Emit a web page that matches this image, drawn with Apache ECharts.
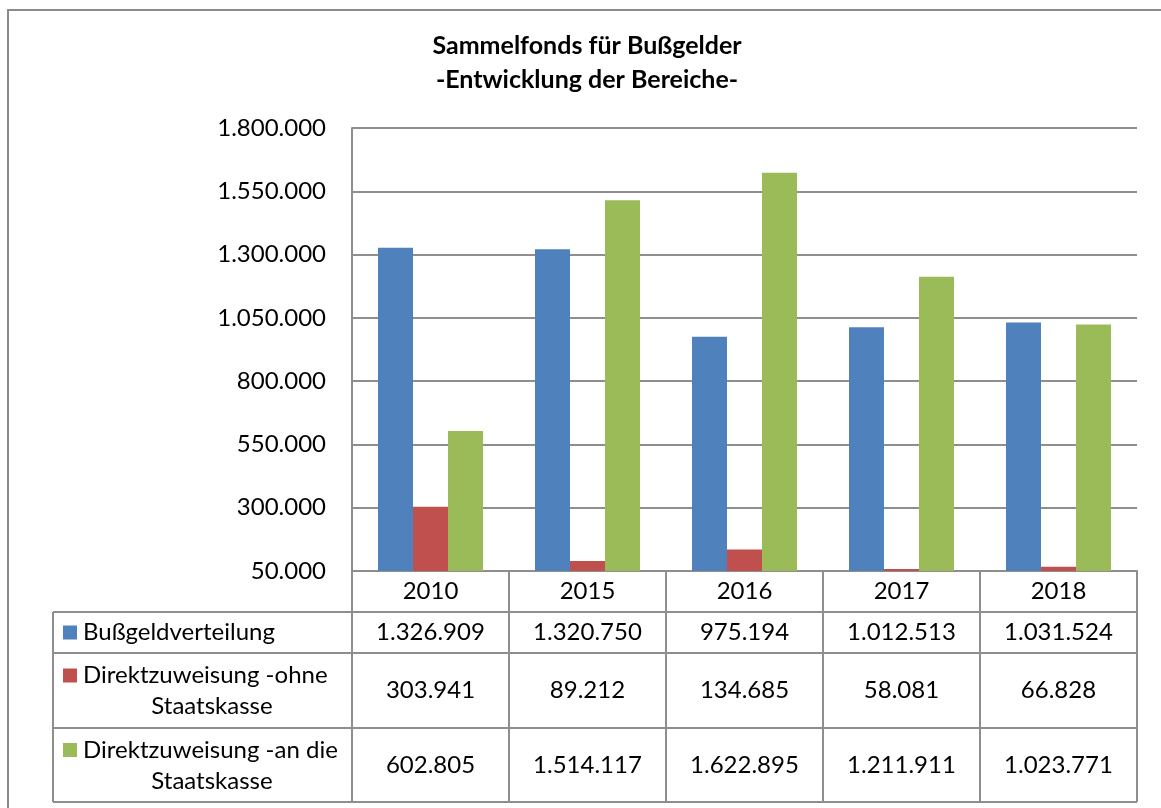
<!DOCTYPE html>
<html>
<head>
<meta charset="utf-8">
<script src="https://cdn.jsdelivr.net/npm/echarts@6/dist/echarts.min.js"></script>
<style>
html,body{margin:0;padding:0;background:#fff;}
#c{width:1161px;height:808px;}
</style>
</head>
<body>
<div id="c"></div>
<script>
const categories = ['2010', '2015', '2016', '2017', '2018'];
const seriesNames = ['Bußgeldverteilung', 'Direktzuweisung -ohne Staatskasse', 'Direktzuweisung -an die Staatskasse'];
const bussgeld = [1326909, 1320750, 975194, 1012513, 1031524];
const ohneStaatskasse = [303941, 89212, 134685, 58081, 66828];
const anStaatskasse = [602805, 1514117, 1622895, 1211911, 1023771];
const tableLabels = [['Bußgeldverteilung'], ['Direktzuweisung -ohne', 'Staatskasse'], ['Direktzuweisung -an die', 'Staatskasse']];
const colors = ['#4F81BD', '#C0504D', '#9BBB59'];
const yMin = 50000, yMax = 1800000, yStep = 250000;

const FONT = 'Lato';
const FS = 24;
const FS_LABEL = 24;
const GRID_COLOR = '#8e8e8e';
const allSeries = [bussgeld, ohneStaatskasse, anStaatskasse];

function fmt(v) {
  return String(v).replace(/\B(?=(\d{3})+(?!\d))/g, '.');
}

const chart = echarts.init(document.getElementById('c'), null, {renderer: 'canvas'});

const option = {
  animation: false,
  backgroundColor: '#fff',
  title: {
    text: 'Sammelfonds für Bußgelder\n-Entwicklung der Bereiche-',
    left: 587,
    top: 29,
    padding: 0,
    textAlign: 'center',
    textStyle: {fontFamily: FONT, fontWeight: 'bold', fontSize: 25, lineHeight: 34, color: '#000'}
  },
  grid: {left: 352, right: 24, top: 128, bottom: 237, containLabel: false},
  xAxis: {
    type: 'category',
    data: categories,
    boundaryGap: true,
    axisLine: {show: true, lineStyle: {color: GRID_COLOR, width: 2}},
    axisTick: {show: true, interval: 0, length: 231, lineStyle: {color: GRID_COLOR, width: 2}},
    axisLabel: {interval: 0, margin: 8, fontFamily: FONT, fontSize: FS, color: '#000'}
  },
  yAxis: {
    type: 'value',
    min: yMin,
    max: yMax,
    interval: yStep,
    axisLine: {show: true, lineStyle: {color: GRID_COLOR, width: 2}},
    axisTick: {show: false},
    axisLabel: {margin: 26, fontFamily: FONT, fontSize: FS, color: '#000', formatter: v => fmt(v)},
    splitLine: {show: true, lineStyle: {color: GRID_COLOR, width: 2}}
  },
  series: seriesNames.map((n, i) => ({
    name: n,
    type: 'bar',
    data: allSeries[i],
    barWidth: 35,
    barGap: '0%',
    itemStyle: {color: colors[i]}
  }))
};
chart.setOption(option);

// data table below the axis
const tableLeft = 53, tableRight = 1137;
const rowLines = [612, 653, 728, 802];
const rowCenters = [632.5, 690.5, 765];
const g = [];
g.push({type: 'rect', shape: {x: 8, y: 10, width: 1300, height: 1000}, style: {fill: 'none', stroke: '#8a8a8a', lineWidth: 2}, z: 0});
rowLines.forEach(y => {
  g.push({type: 'line', shape: {x1: tableLeft, y1: y, x2: tableRight, y2: y}, style: {stroke: GRID_COLOR, lineWidth: 2}});
});
g.push({type: 'line', shape: {x1: tableLeft, y1: rowLines[0], x2: tableLeft, y2: rowLines[3]}, style: {stroke: GRID_COLOR, lineWidth: 2}});
tableLabels.forEach((lines, i) => {
  const cy = rowCenters[i];
  const y1 = lines.length === 1 ? cy : cy - 15;
  g.push({type: 'rect', shape: {x: 63, y: y1 - 7, width: 14, height: 14}, style: {fill: colors[i]}});
  g.push({type: 'text', x: 83, y: y1, style: {text: lines[0], font: FS_LABEL + 'px ' + FONT, fill: '#000', textAlign: 'left', textVerticalAlign: 'middle'}});
  if (lines.length > 1) {
    g.push({type: 'text', x: 212, y: cy + 16, style: {text: lines[1], font: FS_LABEL + 'px ' + FONT, fill: '#000', textAlign: 'center', textVerticalAlign: 'middle'}});
  }
  categories.forEach((c, j) => {
    const px = chart.convertToPixel({xAxisIndex: 0}, c);
    g.push({type: 'text', x: px, y: cy, style: {text: fmt(allSeries[i][j]), font: FS + 'px ' + FONT, fill: '#000', textAlign: 'center', textVerticalAlign: 'middle'}});
  });
});
chart.setOption({graphic: g});
</script>
</body>
</html>
